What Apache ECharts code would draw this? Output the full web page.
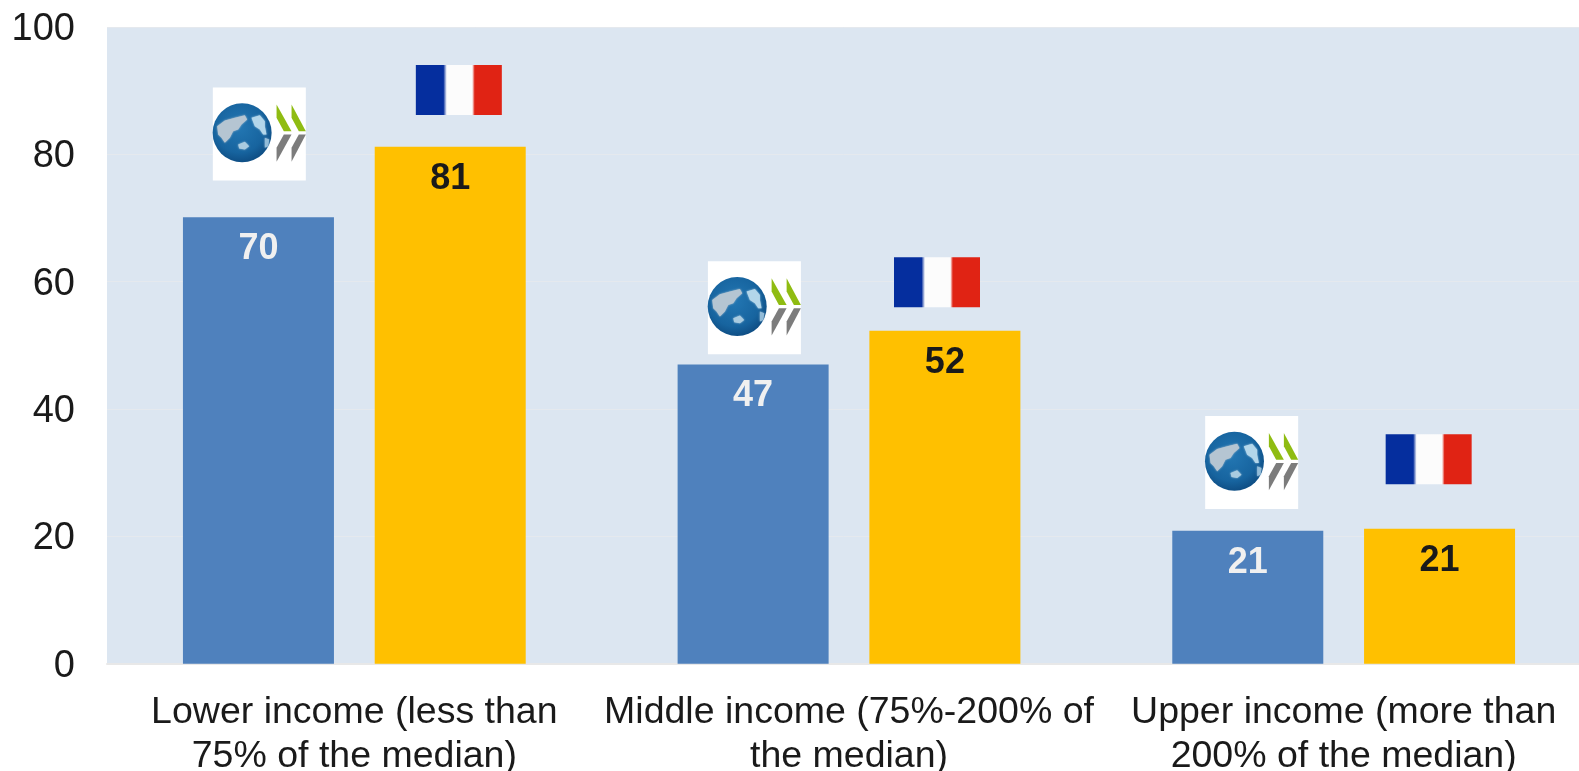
<!DOCTYPE html>
<html><head><meta charset="utf-8">
<style>html,body{margin:0;padding:0;background:#fff;overflow:hidden}#c{width:1579px;height:771px}</style>
<script src="https://cdn.jsdelivr.net/npm/echarts@6/dist/echarts.min.js"></script>
</head><body><div id="c"></div>
<script>
const categories = ['Lower income (less than\n75% of the median)','Middle income (75%-200% of\nthe median)','Upper income (more than\n200% of the median)'];
const oecdValues = [70.1, 47, 20.9];
const franceValues = [81.2, 52.3, 21.2];
const oecdLogoHeights = [83.2, 55.9, 31.6];
const franceFlagHeights = [90.1, 59.9, 32.1];
const yTicks = [0, 20, 40, 60, 80, 100];
const logoShiftPx = [-95, -94.6, -92];
const flagShiftPx = [104.5, 88, 85];

const TEXT = '#1a1a1a', FONT = '"Liberation Sans", Arial, sans-serif';

function logoItem(params, api) {
  const i = api.value(0), p = api.coord([i, api.value(1)]);
  const cx = p[0] + logoShiftPx[i], cy = p[1];
  const poly = (pts, fill) => ({type:'polygon', shape:{points:pts.map(q=>[cx+q[0],cy+q[1]])}, style:{fill}});
  const blob = (pts, fill) => ({type:'polygon', shape:{points:pts.map(q=>[cx+q[0]/3-49.5,cy+q[1]/3-49.5])},
    style:{fill, shadowBlur:2, shadowColor:fill}});
  const green = '#8fbc12', grey = '#7c7c7c';
  const chevron = dx => [
    poly([[17.2+dx,-29.5],[Math.min(32.2+dx,46.5),-2.8],[24.5+dx,-2.8],[17.2+dx,-16.2]], green),
    poly([[Math.min(32.2+dx,46.5),0.5],[17.2+dx,27.8],[17.2+dx,13.8],[24.5+dx,0.5]], grey)
  ];
  return {type:'group', children:[
    {type:'rect', shape:{x:cx-46.5,y:cy-46.5,width:93,height:93}, style:{fill:'#ffffff'}},
    {type:'circle', shape:{cx:cx-17.2,cy:cy-1.2,r:29.5},
      style:{fill:new echarts.graphic.RadialGradient(0.45,0.4,0.62,[{offset:0,color:'#2377b3'},{offset:0.7,color:'#17649f'},{offset:1,color:'#0e4c82'}])}},
    blob([[22,125],[45,108],[75,100],[105,92],[112,105],[95,120],[85,135],[70,140],[60,160],[45,175],[35,160],[25,150]], '#b5c5d2'),
    blob([[125,100],[150,92],[165,110],[165,125],[170,150],[160,150],[150,135],[135,125]], '#b3d6ea'),
    blob([[85,180],[105,172],[118,185],[105,195],[88,192]], '#a9cbe0'),
    blob([[165,160],[178,165],[175,185],[165,190]], '#93bcd8'),
    ...chevron(0), ...chevron(15)
  ]};
}
function flagItem(params, api) {
  const i = api.value(0), p = api.coord([i, api.value(1)]);
  const cx = p[0] + flagShiftPx[i], cy = p[1];
  const fill = new echarts.graphic.LinearGradient(0,0,1,0,[
    {offset:0,color:'#052e9e'},{offset:0.32,color:'#052e9e'},{offset:0.36,color:'#fcfcfc'},
    {offset:0.655,color:'#fcfcfc'},{offset:0.685,color:'#e02314'},{offset:1,color:'#e02314'}]);
  return {type:'rect', shape:{x:cx-43,y:cy-25,width:86,height:50}, style:{fill}};
}
const barLabel = color => ({show:true, position:'insideTop', distance:14, color,
  fontFamily:FONT, fontWeight:'bold', fontSize:36, formatter:p=>Math.round(p.value)});

const chart = echarts.init(document.getElementById('c'), null, {renderer:'canvas'});
chart.setOption({
  animation:false,
  backgroundColor:'#ffffff',
  grid:{left:107, top:27, width:1484, height:636.7, show:true, backgroundColor:'#dce6f1', borderWidth:0, containLabel:false, outerBoundsMode:'none'},
  xAxis:{type:'category', data:categories,
    axisTick:{show:false},
    axisLine:{show:true, lineStyle:{color:'#e8e8e8', width:2}},
    axisLabel:{color:TEXT, fontFamily:FONT, fontSize:37.5, lineHeight:44, margin:27, interval:0}},
  yAxis:{type:'value', min:yTicks[0], max:yTicks[yTicks.length-1], interval:yTicks[1]-yTicks[0],
    axisLine:{show:false}, axisTick:{show:false},
    axisLabel:{color:TEXT, fontFamily:FONT, fontSize:38, margin:32, verticalAlign:'top', lineHeight:5},
    splitLine:{show:true, lineStyle:{color:'#e5e9ee', width:1}}},
  series:[
    {name:'OECD', type:'bar', data:oecdValues, barWidth:151, barGap:'27%', itemStyle:{color:'#4f81bd'}, label:barLabel('#f0f0f0')},
    {name:'France', type:'bar', data:franceValues, barWidth:151, itemStyle:{color:'#ffc000'}, label:barLabel(TEXT)},
    {name:'OECD logo', type:'custom', renderItem:logoItem, clip:false, z:5, silent:true,
      encode:{x:0,y:1}, data:oecdLogoHeights.map((v,i)=>[i,v])},
    {name:'France flag', type:'custom', renderItem:flagItem, clip:false, z:5, silent:true,
      encode:{x:0,y:1}, data:franceFlagHeights.map((v,i)=>[i,v])}
  ]
});
</script></body></html>
